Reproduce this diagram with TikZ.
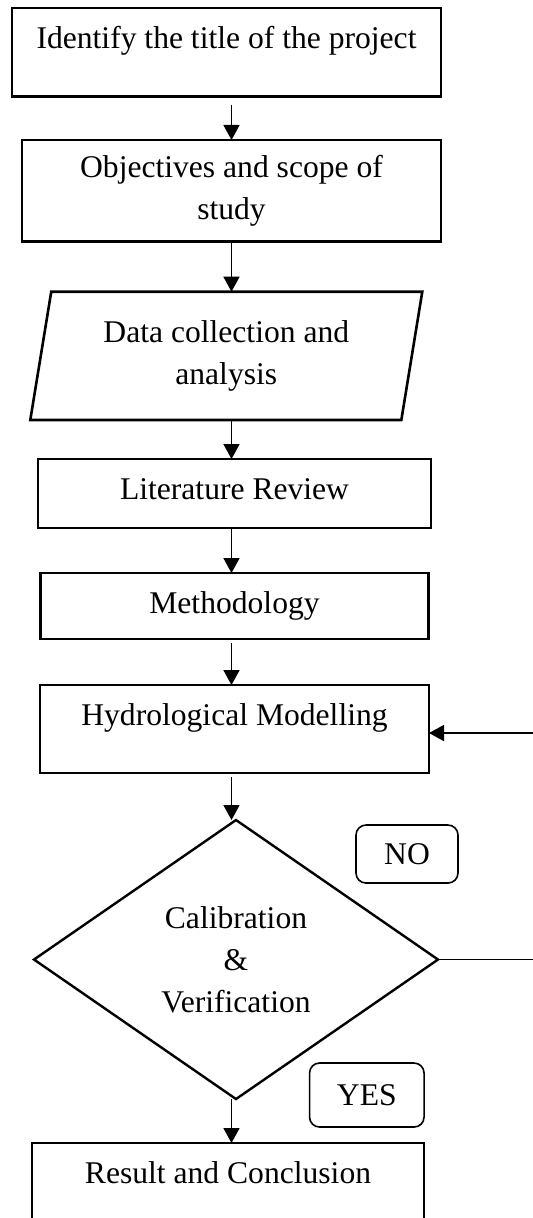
\documentclass[tikz,border=0pt]{standalone}
\usepackage{fontspec}
\setmainfont{Liberation Serif}
\usetikzlibrary{shapes.geometric, arrows.meta, positioning}
\tikzstyle{stepbox} = [rectangle, draw=black, line width=1.2pt, outer sep=0pt, inner sep=0pt, text height=20pt]
\tikzstyle{twobox} = [rectangle, draw=black, line width=1.2pt, outer sep=0pt, align=center]
\tikzstyle{databox} = [trapezium, trapezium left angle=76, trapezium right angle=104, trapezium stretches body=true, draw=black, line width=1.3pt, outer sep=0pt, align=center, minimum width=196pt, minimum height=64.15pt]
\tikzstyle{checkbox} = [diamond, draw=black, line width=1.2pt, outer sep=0pt, inner sep=0pt, align=center, minimum width=202pt, minimum height=139.5pt]
\tikzstyle{tagbox} = [rectangle, rounded corners=5pt, draw=black, line width=0.8pt, inner sep=0pt]
\tikzstyle{arrow} = [line width=0.85pt, ->, >={Triangle[width=8pt,length=7.5pt]}]
\begin{document}
\begin{tikzpicture}[font=\fontsize{15.8}{21}\selectfont]
  \useasboundingbox (0,0) rectangle (266pt,-609pt);
  \node (title) [stepbox, minimum width=214.5pt, text depth=24.2pt] at (113.25pt,-26.25pt) {Identify the title of the project};
  \node (obj) [twobox, below=21.65pt of title, xshift=2.5pt, minimum width=209.5pt, minimum height=50.85pt] {Objectives and scope of\\study};
  \node (data) [databox, below=25pt of obj, xshift=-2.6pt] {Data collection and\\analysis};
  \node (lit) [stepbox, below=19.5pt of data, xshift=4.1pt, minimum width=196.5pt, text depth=14.5pt] {Literature Review};
  \node (meth) [stepbox, below=22.5pt of lit, minimum width=194pt, text depth=13pt] {Methodology};
  \node (hydro) [stepbox, below=23pt of meth, minimum width=194.5pt, text depth=24pt] {Hydrological Modelling};
  \node (calib) [checkbox, below=23.5pt of hydro, xshift=0.75pt] {Calibration\\\&\\Verification};
  \node (result) [stepbox, below=22pt of calib, xshift=-4pt, minimum width=196pt, text depth=25pt] {Result and Conclusion};
  \node (no) [tagbox, minimum width=51pt, minimum height=29pt] at ([shift={(85.5pt,52.75pt)}]calib.center) {NO};
  \node (yes) [tagbox, minimum width=57.25pt, minimum height=32pt] at ([shift={(65.4pt,-67.75pt)}]calib.center) {YES};
  \coordinate [right=60pt of calib.east] (back);

  \draw [arrow, shorten <=4pt] (obj |- title.south) -- (obj.north);
  \draw [arrow] (obj.south) -- (obj |- data.north);
  \draw [arrow] (obj |- data.south) -- (obj |- lit.north);
  \draw [arrow] (obj |- lit.south) -- (obj |- meth.north);
  \draw [arrow, shorten <=2pt] (obj |- meth.south) -- (obj |- hydro.north);
  \draw [arrow, shorten <=2pt] (obj |- hydro.south) -- (obj |- calib.north);
  \draw [arrow] (obj |- calib.south) -- (obj |- result.north);
  \draw [line width=0.5pt] (calib.east) -- (back);
  \draw [arrow] (back) |- ([yshift=-2pt]hydro.east);
\end{tikzpicture}
\end{document}
